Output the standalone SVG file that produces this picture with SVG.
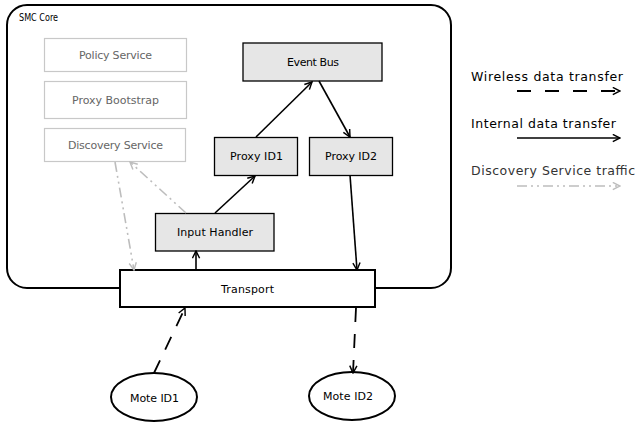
<svg xmlns="http://www.w3.org/2000/svg" width="637" height="426" viewBox="0 0 637 426">
<style>
text{font-family:"DejaVu Sans","Liberation Sans",sans-serif;font-size:11px;fill:#000;text-anchor:middle}
.lg{font-size:12.5px;text-anchor:start}
.gt{fill:#666}
.gbox{fill:#fff;stroke:#c8c8c8;stroke-width:1.2}
.dbox{fill:#e6e6e6;stroke:#000;stroke-width:1.3}
.bold{fill:#fff;stroke:#000;stroke-width:2}
.int{stroke:#000;stroke-width:1.6;fill:none}
.wl{stroke:#000;stroke-width:1.8;fill:none;stroke-dasharray:14 12}
.ds{stroke:#bdbdbd;stroke-width:1.6;fill:none;stroke-dasharray:10 4 2 4 2 4}
</style>
<defs>
<marker id="ab" viewBox="0 0 10 10" refX="9" refY="5" markerWidth="9" markerHeight="9" markerUnits="userSpaceOnUse" orient="auto">
<path d="M1,1 L9,5 L1,9" fill="none" stroke="#000" stroke-width="1.6"/>
</marker>
<marker id="ag" viewBox="0 0 10 10" refX="9" refY="5" markerWidth="9" markerHeight="9" markerUnits="userSpaceOnUse" orient="auto">
<path d="M1,1 L9,5 L1,9" fill="none" stroke="#bdbdbd" stroke-width="1.6"/>
</marker>
</defs>
<g id="smc-core">
<rect x="7" y="5" width="444" height="283" rx="20" ry="20" fill="#fff" stroke="#000" stroke-width="2"/>
<text x="19" y="21" style="text-anchor:start;font-size:10.5px" textLength="39" lengthAdjust="spacingAndGlyphs">SMC Core</text>
</g>
<g id="policy-service">
<rect class="gbox" x="44.5" y="38.5" width="142" height="33"/>
<text class="gt" x="115.5" y="59" textLength="73">Policy Service</text>
</g>
<g id="proxy-bootstrap">
<rect class="gbox" x="44.5" y="81.5" width="142" height="37"/>
<text class="gt" x="115.5" y="104" textLength="87">Proxy Bootstrap</text>
</g>
<g id="discovery-service">
<rect class="gbox" x="44.5" y="128.5" width="141" height="33"/>
<text class="gt" x="115.5" y="149" textLength="95">Discovery Service</text>
</g>
<g id="event-bus">
<rect class="dbox" x="243" y="43" width="139" height="38"/>
<text x="313" y="66" textLength="52">Event Bus</text>
</g>
<g id="proxy-id1">
<rect class="dbox" x="214.5" y="137.5" width="83" height="38"/>
<text x="256.5" y="160" textLength="53">Proxy ID1</text>
</g>
<g id="proxy-id2">
<rect class="dbox" x="309.5" y="137.5" width="83" height="38"/>
<text x="351" y="160" textLength="52">Proxy ID2</text>
</g>
<g id="input-handler">
<rect class="dbox" x="155.5" y="213.5" width="118.5" height="37.5"/>
<text x="215" y="236" textLength="76">Input Handler</text>
</g>
<g id="transport">
<rect class="bold" x="120" y="270" width="255" height="37"/>
<text x="247.5" y="293" textLength="53">Transport</text>
</g>
<g id="mote-id1">
<ellipse class="bold" cx="154" cy="397" rx="43" ry="24"/>
<text x="154.5" y="402" textLength="49">Mote ID1</text>
</g>
<g id="mote-id2">
<ellipse class="bold" cx="352" cy="396" rx="43" ry="24"/>
<text x="348" y="400" textLength="50">Mote ID2</text>
</g>
<g id="connectors">
<line class="int" x1="215" y1="213" x2="255" y2="176" marker-end="url(#ab)"/>
<line class="int" x1="256" y1="137" x2="312" y2="82" marker-end="url(#ab)"/>
<line class="int" x1="319" y1="81" x2="350" y2="137" marker-end="url(#ab)"/>
<line class="int" x1="350" y1="175" x2="357" y2="270" marker-end="url(#ab)"/>
<line class="int" x1="196" y1="270" x2="196" y2="251" marker-end="url(#ab)"/>
<line class="ds" x1="186" y1="213" x2="130" y2="162" marker-end="url(#ag)"/>
<line class="ds" x1="115" y1="162" x2="134" y2="270" marker-end="url(#ag)"/>
<line class="wl" x1="154" y1="373" x2="185" y2="308" marker-end="url(#ab)"/>
<line class="wl" x1="356" y1="308" x2="353" y2="373" marker-end="url(#ab)"/>
</g>
<g id="legend">
<text class="lg" x="471" y="81" textLength="152">Wireless data transfer</text>
<line class="wl" x1="517" y1="91" x2="620" y2="91" marker-end="url(#ab)" style="stroke-dasharray:14 14"/>
<text class="lg" x="471" y="128" textLength="145">Internal data transfer</text>
<line class="int" x1="517" y1="138" x2="620" y2="138" marker-end="url(#ab)"/>
<text class="lg" x="471" y="175" textLength="164" style="fill:#333">Discovery Service traffic</text>
<line class="ds" x1="517" y1="186" x2="620" y2="186" marker-end="url(#ag)"/>
</g>
</svg>
